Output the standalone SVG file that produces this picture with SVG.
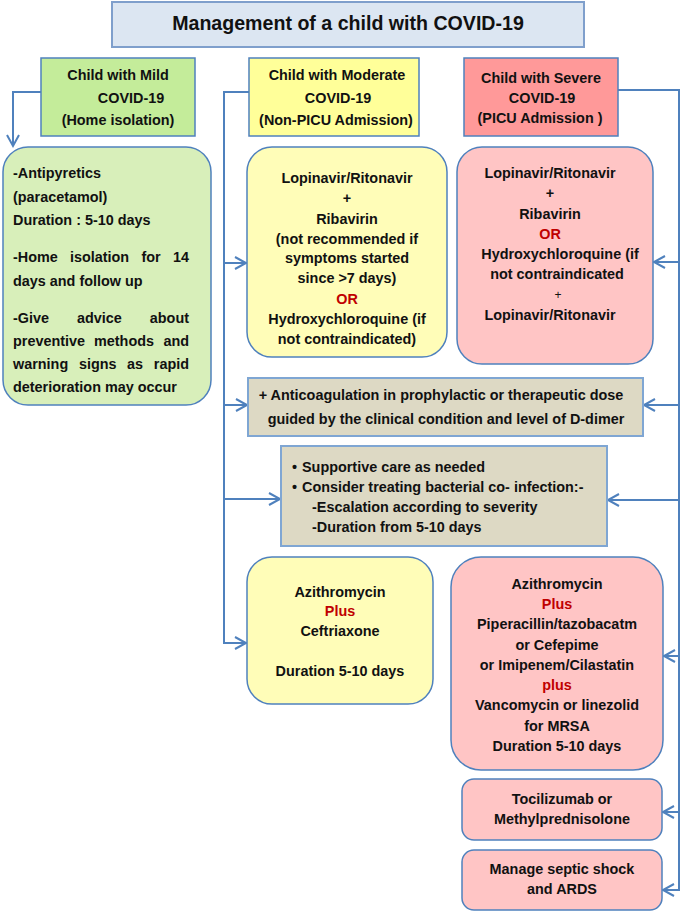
<svg xmlns="http://www.w3.org/2000/svg" width="685" height="913" viewBox="0 0 685 913">
<defs>
<style>
text{font-family:"Liberation Sans",Arial,sans-serif;font-weight:bold;font-size:14.4px;fill:#111}
.c{text-anchor:middle}
.r{fill:#c00000}
.hd{stroke:#4f81bd;stroke-width:1.5}
.bx{stroke:#4f81bd;stroke-width:1.5}
.tan{fill:#ddd9c4;stroke:#7fa6d3;stroke-width:2}
.ln{fill:none;stroke:#4f81bd;stroke-width:2}
</style>
<marker id="ah" viewBox="-1 -7 13 14" markerWidth="13" markerHeight="14" refX="11" refY="0" orient="auto" markerUnits="userSpaceOnUse" overflow="visible">
<path d="M0,-6 L11,0 L0,6" fill="none" stroke="#4f81bd" stroke-width="2"/>
</marker>
</defs>
<rect width="685" height="913" fill="#fff"/>

<g id="connectors">
<path class="ln" d="M41,92 H13 V146" marker-end="url(#ah)"/>
<path class="ln" d="M249,92 H224 V643 H246" marker-end="url(#ah)"/>
<path class="ln" d="M224,263 H246" marker-end="url(#ah)"/>
<path class="ln" d="M224,405 H247" marker-end="url(#ah)"/>
<path class="ln" d="M224,499 H280" marker-end="url(#ah)"/>
<path class="ln" d="M618,90 H679 V890 H663" marker-end="url(#ah)"/>
<path class="ln" d="M679,262 H654" marker-end="url(#ah)"/>
<path class="ln" d="M679,405 H644" marker-end="url(#ah)"/>
<path class="ln" d="M679,500 H608" marker-end="url(#ah)"/>
<path class="ln" d="M679,656 H664" marker-end="url(#ah)"/>
<path class="ln" d="M679,812 H663" marker-end="url(#ah)"/>
</g>

<g id="title">
<rect x="112" y="2" width="472" height="45" fill="#dce6f2" stroke="#7f9fcc" stroke-width="2"/>
<text class="c" x="348" y="30" style="font-size:19.6px">Management of a child with COVID-19</text>
</g>

<g id="mild-header">
<rect class="hd" x="41" y="58" width="154" height="78" fill="#c4ec9a"/>
<text class="c" x="118" y="80">Child with Mild</text>
<text class="c" x="131" y="103">COVID-19</text>
<text class="c" x="118" y="125">(Home isolation)</text>
</g>

<g id="moderate-header">
<rect class="hd" x="249" y="58" width="170" height="78" fill="#ffff99"/>
<text class="c" x="337" y="80">Child with Moderate</text>
<text class="c" x="338" y="103">COVID-19</text>
<text class="c" x="336" y="125">(Non-PICU Admission)</text>
</g>

<g id="severe-header">
<rect class="hd" x="464" y="58" width="154" height="78" fill="#ff9999"/>
<text class="c" x="541" y="83">Child with Severe</text>
<text class="c" x="542" y="103">COVID-19</text>
<text class="c" x="540" y="123">(PICU Admission )</text>
</g>

<g id="mild-care">
<rect class="bx" x="3" y="147" width="208" height="258" rx="25" fill="#d8efba"/>
<text x="13" y="178">-Antipyretics</text>
<text x="13" y="202">(paracetamol)</text>
<text x="13" y="225">Duration : 5-10 days</text>
<text y="262"><tspan x="13">-Home</tspan><tspan x="70">isolation</tspan><tspan x="141.5">for</tspan><tspan x="189" text-anchor="end">14</tspan></text>
<text x="13" y="286">days and follow up</text>
<text y="323"><tspan x="13">-Give</tspan><tspan x="77">advice</tspan><tspan x="189" text-anchor="end">about</tspan></text>
<text y="346"><tspan x="13">preventive</tspan><tspan x="94">methods</tspan><tspan x="189" text-anchor="end">and</tspan></text>
<text y="369"><tspan x="13">warning</tspan><tspan x="79">signs</tspan><tspan x="127">as</tspan><tspan x="189" text-anchor="end">rapid</tspan></text>
<text x="13" y="392">deterioration may occur</text>
</g>

<g id="moderate-antiviral">
<rect class="bx" x="247" y="147" width="200" height="210" rx="25" fill="#fffdb8"/>
<text class="c" x="347" y="183">Lopinavir/Ritonavir</text>
<text class="c" x="347" y="203">+</text>
<text class="c" x="347" y="224">Ribavirin</text>
<text class="c" x="347" y="244">(not recommended if</text>
<text class="c" x="347" y="263">symptoms started</text>
<text class="c" x="347" y="283">since &gt;7 days)</text>
<text class="c r" x="347" y="304">OR</text>
<text class="c" x="347" y="324">Hydroxychloroquine (if</text>
<text class="c" x="347" y="344">not contraindicated)</text>
</g>

<g id="severe-antiviral">
<rect class="bx" x="457" y="147" width="196" height="217" rx="25" fill="#ffc5c5"/>
<text class="c" x="550" y="178">Lopinavir/Ritonavir</text>
<text class="c" x="550" y="198">+</text>
<text class="c" x="550" y="219">Ribavirin</text>
<text class="c r" x="550" y="239">OR</text>
<text class="c" x="560" y="259">Hydroxychloroquine (if</text>
<text class="c" x="557" y="279">not contraindicated</text>
<text class="c" x="558" y="299" style="font-weight:normal;font-size:12px">+</text>
<text class="c" x="550" y="320">Lopinavir/Ritonavir</text>
</g>

<g id="anticoagulation">
<rect class="tan" x="248" y="378" width="395" height="58"/>
<text class="c" x="441" y="400">+ Anticoagulation in prophylactic or therapeutic dose</text>
<text class="c" x="446" y="424">guided by the clinical condition and level of D-dimer</text>
</g>

<g id="supportive">
<rect class="tan" x="281" y="446" width="326" height="100"/>
<text y="472"><tspan x="292">•</tspan><tspan x="302">Supportive care as needed</tspan></text>
<text y="492"><tspan x="292">•</tspan><tspan x="302">Consider  treating bacterial co- infection:-</tspan></text>
<text x="312" y="512">-Escalation according to severity</text>
<text x="312" y="532">-Duration from 5-10 days</text>
</g>

<g id="moderate-antibiotics">
<rect class="bx" x="247" y="557" width="186" height="147" rx="25" fill="#fffdb8"/>
<text class="c" x="340" y="597">Azithromycin</text>
<text class="c r" x="340" y="616">Plus</text>
<text class="c" x="340" y="636">Ceftriaxone</text>
<text class="c" x="340" y="676">Duration 5-10 days</text>
</g>

<g id="severe-antibiotics">
<rect class="bx" x="451" y="557" width="212" height="213" rx="30" fill="#ffc5c5"/>
<text class="c" x="557" y="589">Azithromycin</text>
<text class="c r" x="557" y="609">Plus</text>
<text class="c" x="557" y="629">Piperacillin/tazobacatm</text>
<text class="c" x="557" y="650">or Cefepime</text>
<text class="c" x="557" y="670">or Imipenem/Cilastatin</text>
<text class="c r" x="557" y="690">plus</text>
<text class="c" x="557" y="710">Vancomycin or linezolid</text>
<text class="c" x="557" y="731">for MRSA</text>
<text class="c" x="557" y="751">Duration 5-10 days</text>
</g>

<g id="tocilizumab">
<rect class="bx" x="462" y="779" width="200" height="61" rx="12" fill="#ffc5c5"/>
<text class="c" x="562" y="804">Tocilizumab or</text>
<text class="c" x="562" y="824">Methylprednisolone</text>
</g>

<g id="septic-shock">
<rect class="bx" x="462" y="850" width="200" height="60" rx="12" fill="#ffc5c5"/>
<text class="c" x="562" y="874">Manage septic shock</text>
<text class="c" x="562" y="894">and ARDS</text>
</g>
</svg>
